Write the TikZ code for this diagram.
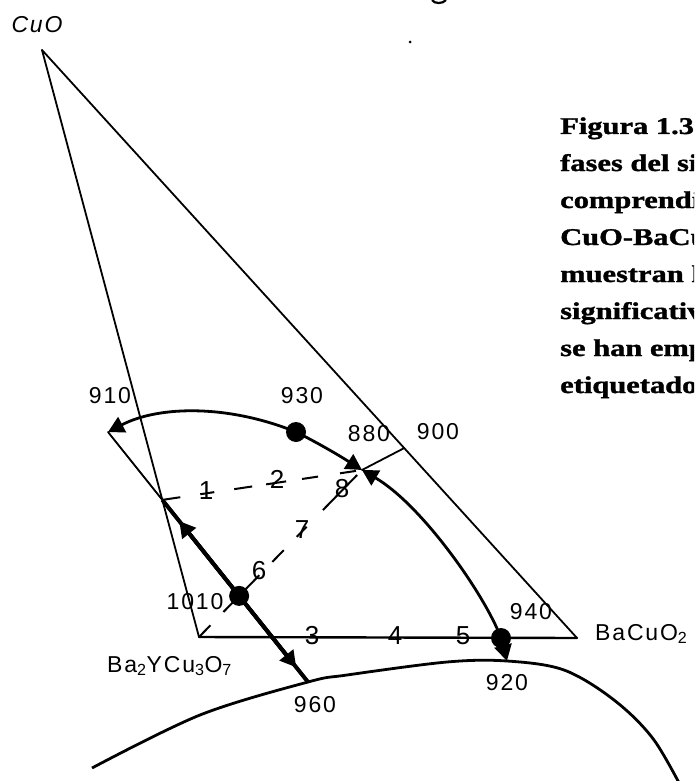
\documentclass[tikz,border=0pt]{standalone}
\usepackage{fontspec}
\setmainfont{Liberation Serif}
\setsansfont{Liberation Sans}
\newfontfamily\lblfont[LetterSpace=8]{Liberation Sans}
\newfontfamily\capfont[BoldFeatures={FakeBold=1.2}]{Liberation Serif}
\usetikzlibrary{arrows.meta,calc}
\begin{document}
\begin{tikzpicture}[x=1pt,y=-1pt,
  edge/.style={line width=1.8pt, line cap=round, line join=round},
  basel/.style={line width=2.4pt, line cap=round},
  crv/.style={line width=2.8pt},
  thk/.style={line width=4pt},
  dl/.style={line width=2pt},
  arr/.style={-{Triangle[length=16pt,width=17pt]}},
  lbl/.style={font=\fontsize{23}{25}\lblfont, inner sep=0pt},
  hnum/.style={font=\fontsize{26}{28}\selectfont\sffamily, inner sep=0pt},
  captxt/.style={font=\fontsize{24}{24}\capfont\bfseries, inner sep=0pt, anchor=base west}
]
\useasboundingbox (0,0) rectangle (694,781);
\clip (0,0) rectangle (694,781);

% main points
\coordinate (VC) at (42,50);
\coordinate (VY) at (199,637);
\coordinate (VB) at (577,638);
\coordinate (P910) at (108,432);
\coordinate (P960) at (308,682);
\coordinate (X1) at (intersection of VC--VY and P910--P960);
\coordinate (E) at (362,470);
\coordinate (P900) at ($(VC)!0.677!(VB)$);
\coordinate (D1010) at (intersection of P910--P960 and VY--E);
\coordinate (D930) at (296,432);
\coordinate (D940) at (501,638);
\coordinate (P920) at (507,661);

% triangle
\draw[edge] (VC) -- (VY);
\draw[edge] (VC) -- (VB);
\draw[basel] (VY) -- (VB);

% tie lines
\draw[edge] (P910) -- (X1);
\draw[edge] (P900) -- (E);
\draw[thk] (X1) -- (P960);
\draw[thk, arr] (D1010) -- ($(D1010)!0.78!(X1)$);
\draw[thk, arr] (D1010) -- ($(D1010)!0.83!(P960)$);

% dashed line X1 -> E
\foreach \a/\b in {0/0.09, 0.19/0.26, 0.36/0.45, 0.52/0.62, 0.7/0.78, 0.89/0.97}
  \draw[dl] ($(X1)!\a!(E)$) -- ($(X1)!\b!(E)$);
% dashed line VY -> E
\foreach \a/\b in {0/0.07, 0.15/0.25, 0.28/0.37, 0.45/0.52, 0.6/0.66, 0.76/0.97}
  \draw[dl] ($(VY)!\a!(E)$) -- ($(VY)!\b!(E)$);

% liquidus curves
\draw[crv, arr] (D930) .. controls (230,405) and (160,405) .. (P910);
\draw[crv, arr] (D930) .. controls (320,444) and (340,456) .. (E);
\draw[crv, arr] (D940) .. controls (485,595) and (422,505) .. (E);
\draw[thk, arr] (D940) -- (P920);

% lower boundary curve
\draw[crv] plot[smooth, tension=0.55] coordinates {(92,768) (200,715) (P960) (347,675) (447,662) (P920) (564,670) (614,700) (654,740) (688,800)};

% points
\fill (D930) circle (10pt);
\fill (D1010) circle (10pt);
\fill (D940) circle (10pt);

% labels
\node[lbl, font=\fontsize{23}{25}\lblfont\itshape] (tCuO) at (37,25) {CuO};
\node[lbl] (t910) at (110,396) {910};
\node[lbl] (t930) at (302,396) {930};
\node[lbl] (t880) at (369,434) {880};
\node[lbl] (t900) at (438,432) {900};
\node[lbl] (t1010) at (195,602) {1010};
\node[lbl] (t940) at (531,612) {940};
\node[lbl] (t920) at (507,683) {920};
\node[lbl] (t960) at (315,705) {960};
\node[lbl, anchor=base west] (tBa) at (595,640) {BaCuO\textsubscript{2}};
\node[lbl, anchor=base west] (tY) at (107,672) {Ba\textsubscript{2}YCu\textsubscript{3}O\textsubscript{7}};

% path numbers
\node[hnum] (n1) at (206,491) {1};
\node[hnum] (n2) at (277,479) {2};
\node[hnum] (n3) at (312,636) {3};
\node[hnum] (n4) at (395,636) {4};
\node[hnum] (n5) at (463,636) {5};
\node[hnum] (n6) at (259,571) {6};
\node[hnum] (n7) at (302,530) {7};
\node[hnum] (n8) at (342,489) {8};

% caption (cut at the right edge)
\node[captxt] (c1) at (560,134) {\scalebox{1.27}[1]{Figura 1.3}};
\node[captxt] (c2) at (560,171) {\scalebox{1.27}[1]{fases del si}};
\node[captxt] (c3) at (560,208) {\scalebox{1.27}[1]{comprendid}};
\node[captxt] (c4) at (560,245) {\scalebox{1.27}[1]{CuO-BaCu}};
\node[captxt] (c5) at (560,282) {\scalebox{1.27}[1]{muestran l}};
\node[captxt] (c6) at (560,319) {\scalebox{1.27}[1]{significativ}};
\node[captxt] (c7) at (560,356) {\scalebox{1.27}[1]{se han emp}};
\node[captxt] (c8) at (560,393) {\scalebox{1.27}[1]{etiquetado}};

% stray marks of the scan
\fill (410,42) circle (1.5pt);
\draw[line width=2.2pt] (432,0) .. controls (434,4) and (443,4) .. (446,0);
\end{tikzpicture}
\end{document}
